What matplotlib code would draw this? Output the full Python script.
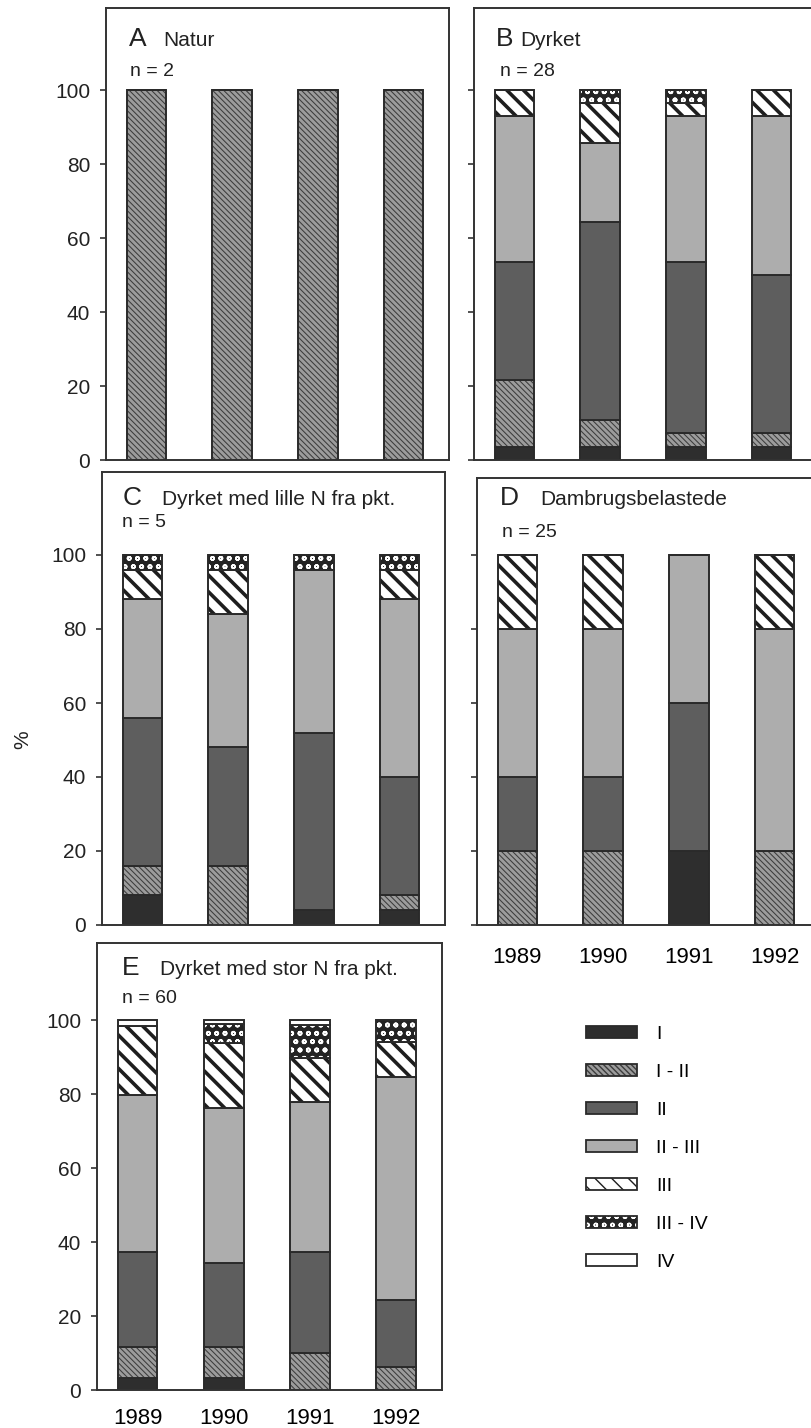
import matplotlib
matplotlib.use('Agg')
import matplotlib.pyplot as plt
from matplotlib.patches import Patch
import numpy as np

plt.rcParams['font.family'] = ['Liberation Sans', 'DejaVu Sans']

# årstal og faunaklasser
aar = ['1989', '1990', '1991', '1992']
klasser = ['I', 'I - II', 'II', 'II - III', 'III', 'III - IV', 'IV']

# andel af stationer (%) i hver klasse, en linje pr. klasse, en kolonne pr. år
natur = [
    [0, 0, 0, 0],
    [100, 100, 100, 100],
    [0, 0, 0, 0],
    [0, 0, 0, 0],
    [0, 0, 0, 0],
    [0, 0, 0, 0],
    [0, 0, 0, 0],
]
dyrket = [
    [3.6, 3.6, 3.6, 3.6],
    [17.9, 7.1, 3.6, 3.6],
    [32.1, 53.6, 46.4, 42.9],
    [39.3, 21.4, 39.3, 42.9],
    [7.1, 10.7, 3.6, 7.1],
    [0, 3.6, 3.6, 0],
    [0, 0, 0, 0],
]
lille_n = [
    [8, 0, 4, 4],
    [8, 16, 0, 4],
    [40, 32, 48, 32],
    [32, 36, 44, 48],
    [8, 12, 0, 8],
    [4, 4, 4, 4],
    [0, 0, 0, 0],
]
dambrug = [
    [0, 0, 20, 0],
    [20, 20, 0, 20],
    [20, 20, 40, 0],
    [40, 40, 40, 60],
    [20, 20, 0, 20],
    [0, 0, 0, 0],
    [0, 0, 0, 0],
]
stor_n = [
    [3.3, 3.3, 0, 0],
    [8.4, 8.4, 9.9, 6.3],
    [25.7, 22.5, 27.5, 18.0],
    [42.3, 42.0, 40.5, 60.2],
    [18.8, 17.5, 11.7, 9.6],
    [0, 5.3, 9.0, 5.9],
    [1.5, 1.0, 1.4, 0],
]

# farve, skravering, skraveringsfarve, stregtykkelse for skravering
stil = {
    'I': ('#2e2e2e', None, '#2e2e2e', 1.0),
    'I - II': ('#9c9c9c', '\\\\\\\\\\\\', '#3c3c3c', 0.75),
    'II': ('#5e5e5e', None, '#5e5e5e', 1.0),
    'II - III': ('#adadad', None, '#adadad', 1.0),
    'III': ('white', '\\\\', '#1e1e1e', 2.6),
    'III - IV': ('#232323', 'oo', 'white', 1.2),
    'IV': ('white', None, 'white', 1.0),
}
kant = '#2a2a2a'
tekstfarve = '#222222'

W, H = 812, 1428
px_pr_pct = 3.7

fig = plt.figure(figsize=(W / 100, H / 100), dpi=100)


def saet_hatch_lw(patch, lw):
    if hasattr(patch, 'set_hatch_linewidth'):
        patch.set_hatch_linewidth(lw)


def akse(x0, ytop, ybot, bredde=343):
    ax = fig.add_axes([x0 / W, 1 - ybot / H, bredde / W, (ybot - ytop) / H])
    ax.set_ylim(0, (ybot - ytop) / px_pr_pct)
    ax.set_xlim(-0.47, 3.53)
    for s in ax.spines.values():
        s.set_linewidth(1.4)
        s.set_color('#333333')
    ax.set_yticks([0, 20, 40, 60, 80, 100])
    ax.tick_params(axis='y', direction='out', length=4.5, width=1.2,
                   labelsize=15, pad=7, colors='#333333')
    ax.tick_params(axis='y', labelcolor=tekstfarve)
    ax.set_xticks(np.arange(len(aar)))
    ax.tick_params(axis='x', length=0, labelbottom=False)
    return ax


def tegn_soejler(ax, data):
    x = np.arange(len(aar))
    bund = np.zeros(len(aar))
    for k, vaerdier in zip(klasser, data):
        v = np.array(vaerdier, dtype=float)
        farve, hatch, hfarve, hlw = stil[k]
        bars = ax.bar(x, v, 0.46, bottom=bund, color=farve, edgecolor=hfarve,
                      linewidth=0, hatch=hatch)
        for b in bars:
            saet_hatch_lw(b, hlw)
        ax.bar(x, v, 0.46, bottom=bund, facecolor='none', edgecolor=kant,
               linewidth=1.4)
        bund += v


def overskrift(bogstav, bx, tekst, tx, y, n, nx, ny):
    fig.text(bx / W, 1 - y / H, bogstav, fontsize=19, va='baseline', color=tekstfarve)
    fig.text(tx / W, 1 - y / H, tekst, fontsize=15, va='baseline', color=tekstfarve)
    fig.text(nx / W, 1 - ny / H, n, fontsize=14, va='baseline', color=tekstfarve)


ax_a = akse(106, 8, 460)
tegn_soejler(ax_a, natur)
overskrift('A', 129, 'Natur', 163, 46, 'n = 2', 130, 76)

ax_b = akse(474, 8, 460)
tegn_soejler(ax_b, dyrket)
ax_b.tick_params(labelleft=False)
overskrift('B', 496, 'Dyrket', 520, 46, 'n = 28', 500, 76)

ax_c = akse(102, 472, 925)
tegn_soejler(ax_c, lille_n)
overskrift('C', 123, 'Dyrket med lille N fra pkt.', 162, 505, 'n = 5', 122, 527)

ax_d = akse(477, 478, 925)
tegn_soejler(ax_d, dambrug)
ax_d.tick_params(labelleft=False)
ax_d.tick_params(axis='x', labelbottom=True, labelsize=16, pad=16)
ax_d.set_xticklabels(aar)
overskrift('D', 500, 'Dambrugsbelastede', 540, 505, 'n = 25', 502, 537)

ax_e = akse(97, 943, 1390, bredde=345)
tegn_soejler(ax_e, stor_n)
ax_e.tick_params(axis='x', labelbottom=True, labelsize=16, pad=13)
ax_e.set_xticklabels(aar)
overskrift('E', 122, 'Dyrket med stor N fra pkt.', 160, 975, 'n = 60', 122, 1003)

fig.text(23 / W, 1 - 740 / H, '%', fontsize=15, rotation=90, ha='center', va='center', color=tekstfarve)

# signaturforklaring
handles = []
for k in klasser:
    farve, hatch, hfarve, hlw = stil[k]
    bund_p = Patch(facecolor=farve, edgecolor=hfarve, hatch=hatch, linewidth=0)
    saet_hatch_lw(bund_p, hlw)
    ramme = Patch(facecolor='none', edgecolor=kant, linewidth=1.3)
    handles.append((bund_p, ramme))
fig.legend(handles, klasser, loc='upper left', bbox_to_anchor=(586 / W, 1 - 1026 / H),
           frameon=False, fontsize=14, handlelength=2.6, handleheight=0.55,
           handletextpad=1.0, labelspacing=1.08, borderpad=0, borderaxespad=0)

fig.savefig('out.png', dpi=100, facecolor='white')
